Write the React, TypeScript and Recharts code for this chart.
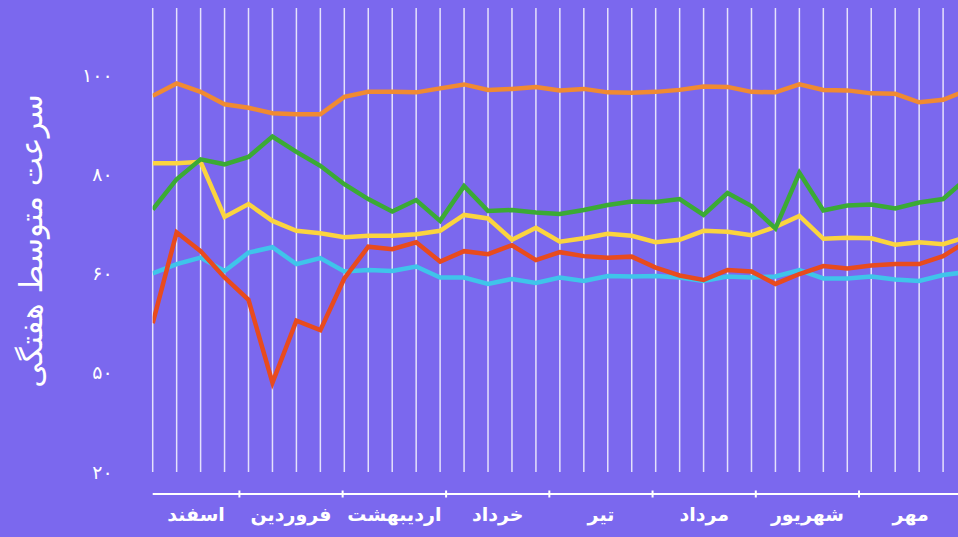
import React from 'react';
import { LineChart, Line, XAxis, YAxis, ReferenceLine, Label } from 'recharts';

// Weekly average speed (سرعت متوسط هفتگی), 35 weeks
const orangeSeries = [95.8, 98.3, 96.6, 94.1, 93.4, 92.3, 92.1, 92.1, 95.6, 96.6, 96.6, 96.5, 97.3, 98.1, 97.0, 97.2, 97.6, 96.9, 97.2, 96.5, 96.4, 96.6, 97.0, 97.7, 97.6, 96.6, 96.5, 98.1, 97.0, 96.9, 96.3, 96.2, 94.5, 95.0, 96.9];
const greenSeries = [72.9, 79.0, 83.0, 82.0, 83.5, 87.6, 84.5, 81.7, 78.0, 75.0, 72.5, 74.8, 70.6, 77.6, 72.6, 72.8, 72.3, 72.0, 72.8, 73.8, 74.5, 74.4, 75.0, 71.8, 76.2, 73.6, 69.1, 80.3, 72.7, 73.7, 73.9, 73.1, 74.3, 75.0, 79.2];
const yellowSeries = [82.2, 82.2, 82.5, 71.4, 74.0, 70.6, 68.6, 68.1, 67.3, 67.6, 67.6, 67.9, 68.6, 71.8, 71.1, 66.8, 69.2, 66.4, 67.1, 68.0, 67.6, 66.3, 66.8, 68.6, 68.4, 67.7, 69.4, 71.6, 67.0, 67.2, 67.1, 65.8, 66.3, 65.9, 67.4];
const redSeries = [50.0, 68.3, 64.5, 59.2, 54.7, 38.0, 50.5, 48.6, 59.0, 65.4, 64.9, 66.3, 62.4, 64.5, 63.9, 65.7, 62.7, 64.3, 63.5, 63.2, 63.4, 61.2, 59.6, 58.7, 60.7, 60.4, 57.9, 59.9, 61.5, 61.0, 61.6, 61.9, 61.9, 63.5, 66.5];
const cyanSeries = [60.0, 61.9, 63.2, 60.5, 64.2, 65.3, 61.9, 63.1, 60.4, 60.7, 60.5, 61.4, 59.2, 59.2, 57.9, 58.9, 58.1, 59.2, 58.5, 59.5, 59.4, 59.5, 59.2, 58.5, 59.4, 59.2, 59.4, 60.7, 59.0, 59.0, 59.4, 58.8, 58.5, 59.7, 60.3];

// Month axis (in week units)
const monthLabels = ['اسفند', 'فروردین', 'اردیبهشت', 'خرداد', 'تیر', 'مرداد', 'شهریور', 'مهر'];
const monthBoundaries = [3.62, 7.93, 12.25, 16.56, 20.87, 25.18, 29.49];
const monthStart = 0;
const monthEnd = 33.8;

// Y axis
const yTicks = [20, 40, 60, 80, 100];
const yTickLabels = ['۲۰', '۵۰', '۶۰', '۸۰', '۱۰۰'];
const yTitle = 'سرعت متوسط هفتگی';
const Y_MIN = 15.57;
const Y_MAX = 113.5;
const X_MAX = 35;

const data = orangeSeries.map((_, i) => ({
  week: i,
  orange: orangeSeries[i],
  green: greenSeries[i],
  yellow: yellowSeries[i],
  red: redSeries[i],
  cyan: cyanSeries[i],
}));

const edges = [monthStart, ...monthBoundaries, monthEnd];
const labelPositions = monthLabels.map((_, i) => (edges[i] + edges[i + 1]) / 2);
const xTicks = [...monthBoundaries, ...labelPositions];

const FONT = "'DejaVu Sans', 'Noto Sans', sans-serif";

const MonthTick = (props: any) => {
  const { x, y, payload } = props;
  const v = payload.value;
  if (monthBoundaries.indexOf(v) >= 0) {
    return <line x1={x} x2={x} y1={y - 3.5} y2={y + 3.5} stroke="#ffffff" strokeWidth={2} />;
  }
  const li = labelPositions.indexOf(v);
  return (
    <text x={x} y={y + 27} textAnchor="middle" fill="#ffffff" fontWeight="bold" fontSize={19} fontFamily={FONT}>
      {monthLabels[li]}
    </text>
  );
};

const YTick = (props: any) => {
  const { x, y, payload } = props;
  const idx = yTicks.indexOf(payload.value);
  return (
    <text x={x} y={y} dy="0.35em" textAnchor="end" fill="#ffffff" fontSize={19} fontFamily={FONT}>
      {yTickLabels[idx]}
    </text>
  );
};

const renderTitle = (props: any) => {
  const vb = props.viewBox || {};
  const cx = vb.x + 31;
  const cy = vb.y + vb.height / 2 - 10;
  return (
    <text
      x={cx}
      y={cy}
      transform={`rotate(-90 ${cx} ${cy})`}
      textAnchor="middle"
      dominantBaseline="central"
      fill="#ffffff"
      fontSize={31}
      fontFamily={FONT}
    >
      {yTitle}
    </text>
  );
};

export default function App() {
  return (
    <div
      style={{
        position: 'fixed',
        left: 0,
        top: 0,
        width: 958,
        height: 537,
        overflow: 'hidden',
        background: '#7B68EE',
      }}
    >
      <LineChart
        width={991}
        height={537}
        data={data}
        margin={{ top: 8, right: 0, bottom: 0, left: 0 }}
      >
        <XAxis
          dataKey="week"
          type="number"
          domain={[0, X_MAX]}
          allowDataOverflow
          ticks={xTicks}
          interval={0}
          tick={<MonthTick />}
          tickLine={false}
          tickSize={0}
          tickMargin={0}
          axisLine={{ stroke: '#ffffff', strokeWidth: 2 }}
          height={43}
        />
        <YAxis
          type="number"
          domain={[Y_MIN, Y_MAX]}
          allowDataOverflow
          ticks={yTicks}
          interval={0}
          tick={<YTick />}
          tickLine={false}
          tickSize={0}
          tickMargin={40}
          axisLine={false}
          width={152.7}
        >
          <Label content={renderTitle} />
        </YAxis>
        {data.map((d) => (
          <ReferenceLine
            key={'g' + d.week}
            segment={[
              { x: d.week, y: yTicks[0] },
              { x: d.week, y: Y_MAX },
            ]}
            stroke="#ffffff"
            strokeOpacity={0.8}
            strokeWidth={1.5}
          />
        ))}
        <Line type="linear" dataKey="cyan" stroke="#3FC4EA" strokeWidth={4.5} dot={false} activeDot={false} isAnimationActive={false} />
        <Line type="linear" dataKey="yellow" stroke="#FBD43F" strokeWidth={4.5} dot={false} activeDot={false} isAnimationActive={false} />
        <Line type="linear" dataKey="green" stroke="#3BAA35" strokeWidth={4.5} dot={false} activeDot={false} isAnimationActive={false} />
        <Line type="linear" dataKey="red" stroke="#E84B1E" strokeWidth={4.5} dot={false} activeDot={false} isAnimationActive={false} />
        <Line type="linear" dataKey="orange" stroke="#F08A32" strokeWidth={4.5} dot={false} activeDot={false} isAnimationActive={false} />
      </LineChart>
    </div>
  );
}
